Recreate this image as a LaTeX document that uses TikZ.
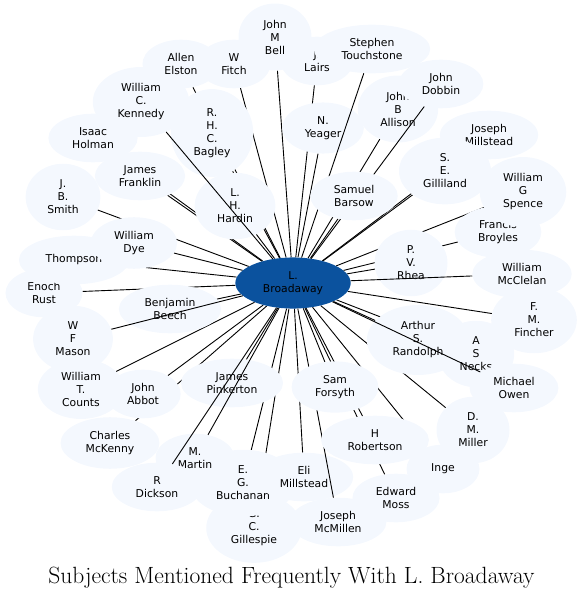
\documentclass[tikz,border=0pt]{standalone}
\usepackage{fontspec}
\newfontfamily\dvs{DejaVu Sans}
\usetikzlibrary{shapes.geometric}
\pgfdeclarelayer{background}
\pgfsetlayers{background,main}
\definecolor{nodebg}{RGB}{244,248,254}
\definecolor{hubblue}{RGB}{11,82,158}
\begin{document}
\begin{tikzpicture}[x=1pt,y=-1pt,
  nd/.style={ellipse, fill=nodebg, inner xsep=10.7pt, inner ysep=6.5pt,
    minimum width=73pt, minimum height=48.6pt, align=center,
    font=\dvs\fontsize{10.8}{13}\selectfont, text=black},
  hub/.style={nd, fill=hubblue},
  ln/.style={line width=0.9pt, draw=black}]
\useasboundingbox (0,0) rectangle (584,599);

\node[hub] (c) at (293,283) {L.\\Broadaway};

\node[nd] (gillespie) at (254,528) {G.\\C.\\Gillespie};
\node[nd] (buchanan) at (243,483) {E.\\G.\\Buchanan};
\node[nd] (eli) at (304,477) {Eli\\Millstead};
\node[nd] (mcmillen) at (338,522) {Joseph\\McMillen};
\draw[ln] (c) -- (mcmillen);
\node[nd] (forsyth) at (335,387) {Sam\\Forsyth};
\node[nd] (robertson) at (375,440) {H\\Robertson};
\node[nd] (moss) at (396,498) {Edward\\Moss};
\node[nd] (inge) at (443,469) {Inge};
\node[nd] (miller) at (473,430) {D.\\M.\\Miller};
\node[nd] (pinkerton) at (232,383) {James\\Pinkerton};
\node[nd] (martin) at (195,458) {M.\\Martin};
\draw[ln] (c) -- (martin);
\node[nd] (dickson) at (157,487) {R\\Dickson};
\draw[ln] (c) -- (dickson);
\node[nd] (mckenny) at (110,443) {Charles\\McKenny};
\node[nd] (abbot) at (143,394) {John\\Abbot};
\node[nd] (beech) at (170,309) {Benjamin\\Beech};
\node[nd] (mason) at (73,339) {W\\F\\Mason};
\draw[ln] (c) -- (mason);
\node[nd, inner ysep=4pt] (counts) at (81,389) {William\\T.\\Counts};
\node[nd] (rust) at (44,293) {Enoch\\Rust};
\node[nd] (thompson) at (74,260) {Thompson};
\node[nd] (dye) at (134,243) {William\\Dye};
\node[nd] (smith) at (63,197) {J.\\B.\\Smith};
\node[nd] (franklin) at (140,176) {James\\Franklin};
\node[nd] (holman) at (93,138) {Isaac\\Holman};
\node[nd] (bagley) at (212,133) {R.\\H.\\C.\\Bagley};
\node[nd] (hardin) at (235,206) {L.\\H.\\Hardin};
\node[nd] (kennedy) at (141,102) {William\\C.\\Kennedy};
\draw[ln] (c) -- (kennedy);
\node[nd] (elston) at (181,64) {Allen\\Elston};
\node[nd] (fitch) at (234,64) {W\\Fitch};
\node[nd] (lairs) at (317,61) {J.\\Lairs};
\node[nd] (bell) at (275,37) {John\\M\\Bell};
\node[nd] (yeager) at (323,128) {N.\\Yeager};
\node[nd] (touch) at (372,49) {Stephen\\Touchstone};
\draw[ln] (c) -- (touch);
\node[nd] (allison) at (398,109) {John\\B\\Allison};
\node[nd] (dobbin) at (441,84) {John\\Dobbin};
\draw[ln] (c) -- (dobbin);
\node[nd] (barsow) at (354,196) {Samuel\\Barsow};
\node[nd] (millstead) at (489,135) {Joseph\\Millstead};
\node[nd] (gilliland) at (445,171) {S.\\E.\\Gilliland};
\node[nd] (broyles) at (498,232) {Francis\\Broyles};
\node[nd] (spence) at (523,192) {William\\G\\Spence};
\node[nd] (rhea) at (411,263) {P.\\V.\\Rhea};
\node[nd] (mcclelan) at (522,274) {William\\McClelan};
\draw[ln] (c) -- (mcclelan);
\node[nd] (fincher) at (534,320) {F.\\M.\\Fincher};
\node[nd] (necks) at (476,354) {A\\S\\Necks};
\node[nd] (randolph) at (418,340) {Arthur\\S.\\Randolph};
\node[nd] (owen) at (514,388) {Michael\\Owen};
\draw[ln] (c) -- (owen);

\begin{pgfonlayer}{background}
\foreach \n in {gillespie,buchanan,eli,forsyth,robertson,moss,inge,miller,
  pinkerton,mckenny,abbot,counts,beech,rust,thompson,dye,smith,franklin,
  holman,bagley,hardin,elston,fitch,bell,lairs,yeager,allison,barsow,
  millstead,gilliland,broyles,spence,rhea,fincher,randolph,necks}
  \draw[ln] (c) -- (\n);
\end{pgfonlayer}

\node[anchor=base, font=\fontsize{23.5}{28}\selectfont] (title) at (291.5,583)
  {Subjects Mentioned Frequently With L. Broadaway};
\end{tikzpicture}
\end{document}
